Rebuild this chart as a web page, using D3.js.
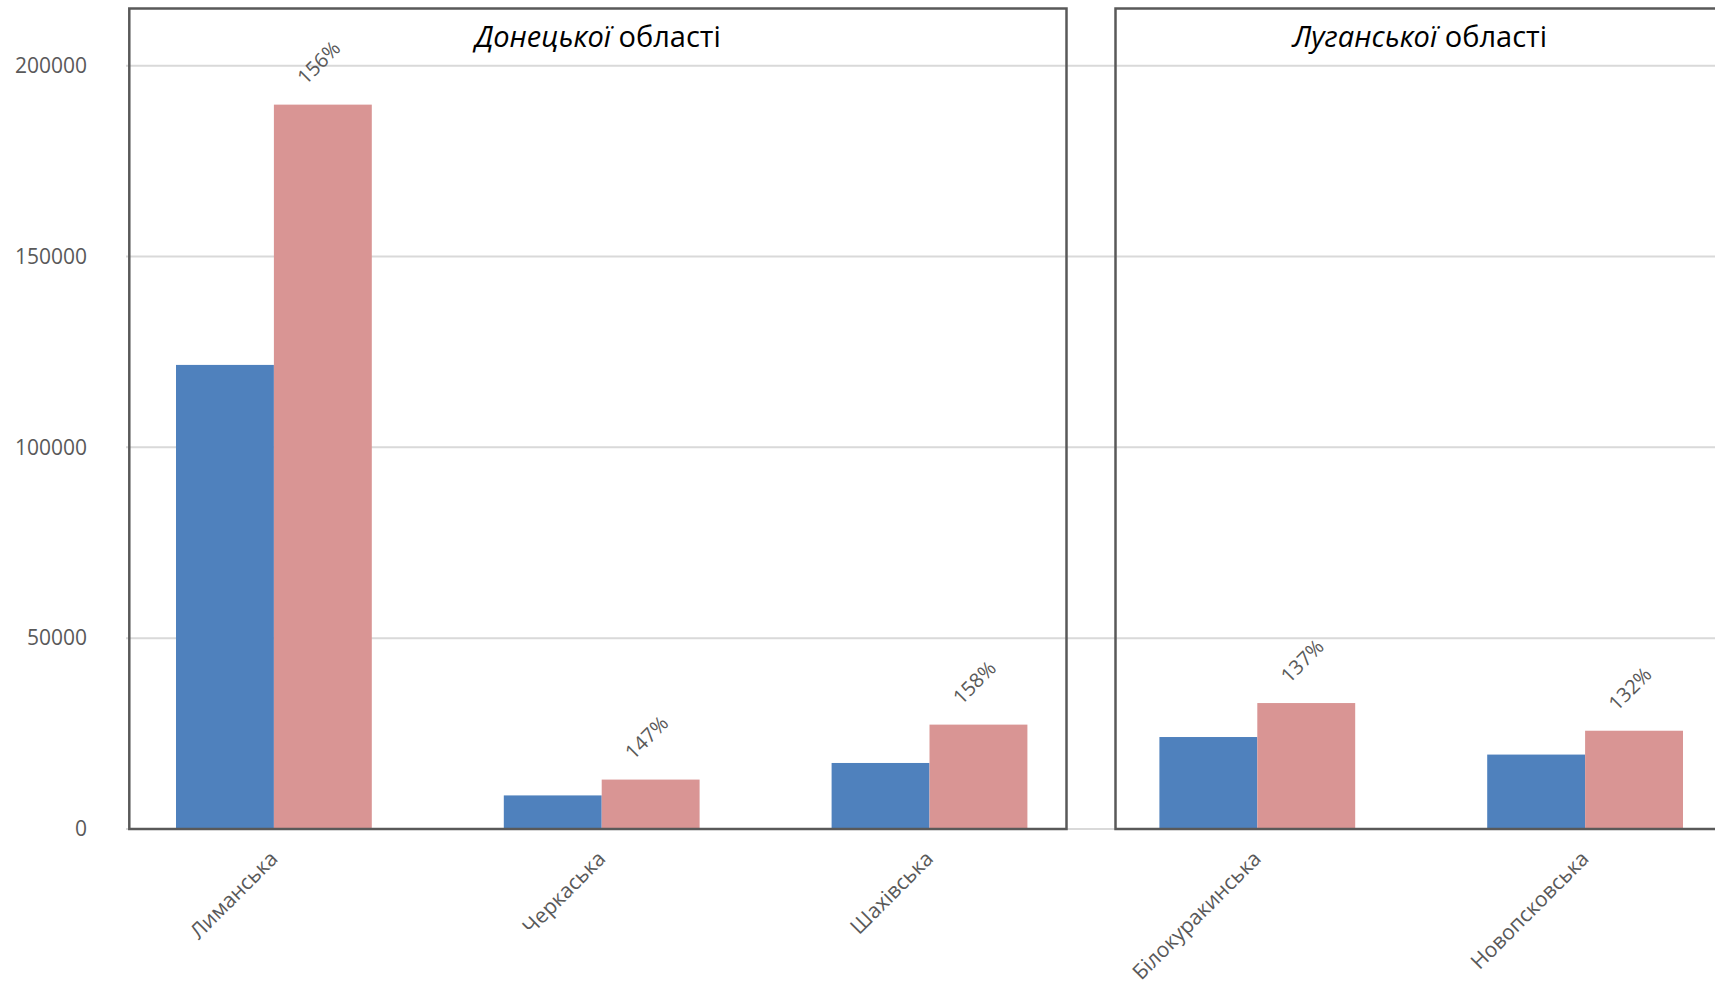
<!DOCTYPE html>
<html>
<head>
<meta charset="utf-8">
<script src="https://cdn.jsdelivr.net/npm/d3@7"></script>
<style>
  html, body { margin: 0; padding: 0; background: #ffffff; }
  svg { display: block; }
</style>
</head>
<body>
<svg id="chart" width="1715" height="984"></svg>
<script>
// ---- data ----
const categories = ["Лиманська", "Черкаська", "Шахівська", "Білокуракинська", "Новопсковська"];
const seriesBefore = [121600, 8800, 17300, 24100, 19500];
const seriesAfter  = [189800, 12950, 27350, 33000, 25750];
const pctLabels = ["156%", "147%", "158%", "137%", "132%"];
const yTicks = [0, 50000, 100000, 150000, 200000];
const panelTitles = [
  { italic: "Донецької", regular: " області" },
  { italic: "Луганської", regular: " області" }
];

// ---- layout ----
const W = 1715, H = 984;
const svg = d3.select("#chart");
const y0 = 829, yTop = 65.7;
const y = d3.scaleLinear().domain([0, 200000]).range([y0, yTop]);
const x = d3.scaleBand().domain(categories).range([110, 1749])
  .paddingInner(0.4027).paddingOuter(0.4027 / 2);
const xs = d3.scaleBand().domain(["before", "after"]).range([0, x.bandwidth()]);

const colors = { before: "#4F81BD", after: "#D99594" };
const gray = "#595959";

// gridlines
const grid = svg.append("g");
grid.selectAll("line").data(yTicks).join("line")
  .attr("x1", 126).attr("x2", W)
  .attr("y1", d => y(d)).attr("y2", d => y(d))
  .attr("stroke", "#D9D9D9").attr("stroke-width", 2);

// y axis labels via d3 axis
const yAxis = svg.append("g").attr("transform", "translate(126,0)")
  .call(d3.axisLeft(y).tickValues(yTicks).tickFormat(d3.format("d")).tickSize(0).tickPadding(39));
yAxis.select(".domain").remove();
yAxis.selectAll("text")
  .attr("font-family", "'Open Sans', sans-serif")
  .attr("font-size", 21).attr("fill", gray);

// bars
const groups = svg.append("g").selectAll("g").data(categories).join("g")
  .attr("transform", d => `translate(${x(d)},0)`);
groups.append("rect")
  .attr("x", xs("before")).attr("width", xs.bandwidth())
  .attr("y", (d, i) => y(seriesBefore[i]))
  .attr("height", (d, i) => y0 - y(seriesBefore[i]))
  .attr("fill", colors.before);
groups.append("rect")
  .attr("x", xs("after")).attr("width", xs.bandwidth())
  .attr("y", (d, i) => y(seriesAfter[i]))
  .attr("height", (d, i) => y0 - y(seriesAfter[i]))
  .attr("fill", colors.after);

// percent labels
groups.append("text")
  .attr("transform", (d, i) => `translate(${xs("after") + xs.bandwidth() / 2 - 4},${y(seriesAfter[i]) - 42}) rotate(-45)`)
  .attr("text-anchor", "middle").attr("dy", "0.35em")
  .attr("font-family", "'Open Sans', sans-serif")
  .attr("font-size", 20).attr("fill", gray)
  .text((d, i) => pctLabels[i]);

// category labels
groups.append("text")
  .attr("transform", `translate(${x.bandwidth() / 2 + 5},860) rotate(-45)`)
  .attr("text-anchor", "end")
  .attr("font-family", "'Open Sans', sans-serif")
  .attr("font-size", 21).attr("fill", gray)
  .text(d => d);

// panel frames
const panels = [
  { x0: 129.3, x1: 1066.5 },
  { x0: 1115.5, x1: 1724 }
];
svg.append("g").selectAll("rect").data(panels).join("rect")
  .attr("x", d => d.x0).attr("y", 8.5)
  .attr("width", d => d.x1 - d.x0).attr("height", y0 - 8.5)
  .attr("fill", "none").attr("stroke", gray).attr("stroke-width", 2.5);

// titles
const titles = svg.append("g").selectAll("text").data(panelTitles).join("text")
  .attr("x", (d, i) => (panels[i].x0 + panels[i].x1) / 2)
  .attr("y", 47)
  .attr("text-anchor", "middle")
  .attr("font-family", "'Open Sans', sans-serif")
  .attr("font-size", 29).attr("fill", "#000");
titles.append("tspan").attr("font-style", "italic").text(d => d.italic);
titles.append("tspan").text(d => d.regular);
</script>
</body>
</html>
